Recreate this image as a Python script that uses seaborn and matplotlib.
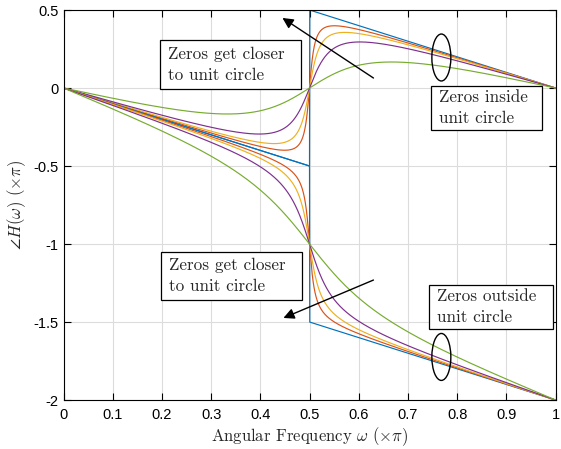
import numpy as np
import matplotlib
matplotlib.use("Agg")
import matplotlib.pyplot as plt
from matplotlib.patches import Ellipse, Rectangle
import seaborn as sns

# Second-order FIR sections with a conjugate zero pair on the imaginary axis.
# Inside:  H(z) = 1 + a z^-2   (zeros at +/- j*sqrt(a))
# Outside: H(z) = a + z^-2     (mirror-image zeros at +/- j/sqrt(a))
coef_a = [1.0, 0.95, 0.9, 0.8, 0.5]
line_colors = ["#0072BD", "#D95319", "#EDB120", "#7E2F8E", "#77AC30"]

x_ticks = [0, 0.1, 0.2, 0.3, 0.4, 0.5, 0.6, 0.7, 0.8, 0.9, 1]
x_ticklabels = ["0", "0.1", "0.2", "0.3", "0.4", "0.5", "0.6", "0.7", "0.8", "0.9", "1"]
y_ticks = [0.5, 0, -0.5, -1, -1.5, -2]
y_ticklabels = ["0.5", "0", "-0.5", "-1", "-1.5", "-2"]

sns.set_style("ticks")
plt.rcParams["mathtext.fontset"] = "cm"
plt.rcParams["axes.unicode_minus"] = False

w = np.linspace(0, 1, 2001)          # frequency in units of pi
ejw2 = np.exp(-2j * np.pi * w)

fig = plt.figure(figsize=(5.61, 4.49), dpi=100)
ax = fig.add_axes([63.5 / 561, 1 - 400 / 449, 492 / 561, 390 / 449])

for a, c in zip(coef_a, line_colors):
    ph_in = np.angle(1 + a * ejw2) / np.pi
    sns.lineplot(x=w, y=ph_in, color=c, lw=0.85, ax=ax, sort=False, estimator=None)
for a, c in zip(coef_a, line_colors):
    ph_out = (-2 * np.pi * w + np.angle(1 + a * np.conj(ejw2))) / np.pi
    sns.lineplot(x=w, y=ph_out, color=c, lw=0.85, ax=ax, sort=False, estimator=None)

ax.set_xlim(0, 1)
ax.set_ylim(-2, 0.5)
ax.set_xticks(x_ticks)
ax.set_xticklabels(x_ticklabels)
ax.set_yticks(y_ticks)
ax.set_yticklabels(y_ticklabels)
ax.tick_params(direction="in", length=5, width=0.8, top=True, right=True,
               labelsize=10.5, colors="black")
ax.tick_params(axis="x", pad=6)
ax.tick_params(axis="y", pad=3.5)
for lab in ax.get_xticklabels() + ax.get_yticklabels():
    lab.set_fontfamily("Liberation Sans")
ax.grid(True, color="#dcdcdc", lw=0.8)
ax.set_axisbelow(True)
for s in ax.spines.values():
    s.set_color("black")
    s.set_linewidth(0.8)

ax.set_xlabel(r"Angular Frequency $\omega$ $(\times\pi)$", fontfamily="cmr10",
              fontsize=12, labelpad=2)
ax.set_ylabel(r"$\angle H(\omega)$ $(\times\pi)$", fontfamily="cmr10",
              fontsize=12, labelpad=4)

# annotation boxes: (left, bottom, right, top) in data units, text left edge
boxes = [
    ((0.196, -0.006, 0.482, 0.308), 0.213, "Zeros get closer\nto unit circle"),
    ((0.198, -1.359, 0.484, -1.051), 0.215, "Zeros get closer\nto unit circle"),
    ((0.747, -0.269, 0.973, 0.013), 0.764, "Zeros inside\nunit circle"),
    ((0.743, -1.545, 0.995, -1.263), 0.760, "Zeros outside\nunit circle"),
]
for (x0, y0, x1, y1), tx, txt in boxes:
    ax.add_patch(Rectangle((x0, y0), x1 - x0, y1 - y0, facecolor="white",
                           edgecolor="black", lw=0.9, zorder=5))
    ax.text(tx, (y0 + y1) / 2, txt, fontfamily="cmr10", fontsize=12.3,
            ha="left", va="center", linespacing=1.45, zorder=6)

# arrows
for (xs, ys), (xe, ye) in [((0.630, 0.064), (0.445, 0.449)),
                           ((0.630, -1.231), (0.447, -1.474))]:
    ax.annotate("", xy=(xe, ye), xytext=(xs, ys),
                arrowprops=dict(arrowstyle="-|>", color="black", lw=1.0,
                                mutation_scale=16, shrinkA=0, shrinkB=0),
                zorder=7)

# ellipses marking the curve bundles
for cy in [0.1955, -1.724]:
    ax.add_patch(Ellipse((0.768, cy), 0.0386, 0.301, fill=False,
                         edgecolor="black", lw=1.0, zorder=7))

fig.savefig("out.png", dpi=100)
